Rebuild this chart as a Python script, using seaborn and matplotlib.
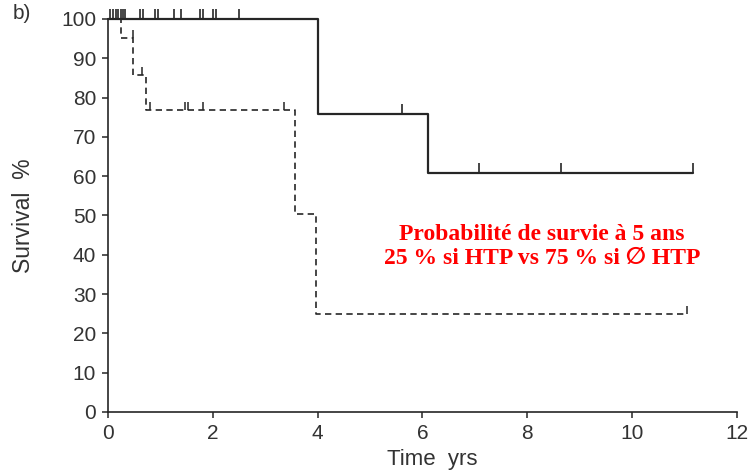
import numpy as np
import matplotlib
matplotlib.use("Agg")
import matplotlib.pyplot as plt
import seaborn as sns
from matplotlib.path import Path

# Kaplan-Meier steps (time in years, survival in %)
no_htp_times = [0, 4.0, 6.1, 11.17]
no_htp_surv = [100, 75.8, 60.7, 60.7]
no_htp_cens_t = [0.04, 0.1, 0.15, 0.19, 0.25, 0.29, 0.33, 0.61, 0.67, 0.9, 0.96,
                 1.26, 1.4, 1.76, 1.82, 2.01, 2.06, 2.5, 5.6, 7.07, 8.64, 11.17]
no_htp_cens_s = [100] * 18 + [75.8, 60.7, 60.7, 60.7]

htp_times = [0, 0.25, 0.48, 0.73, 3.57, 3.96, 11.05]
htp_surv = [100, 95.2, 85.7, 76.8, 50.4, 25.0, 25.0]
htp_cens_t = [0.47, 0.65, 0.8, 1.47, 1.53, 1.82, 3.35, 11.05]
htp_cens_s = [95.2, 85.7, 76.8, 76.8, 76.8, 76.8, 76.8, 25.0]

x_ticks = [0, 2, 4, 6, 8, 10, 12]
y_ticks = list(range(0, 101, 10))

sns.set_theme(style="ticks")
plt.rcParams['font.family'] = ['Liberation Sans', 'DejaVu Sans']

fig = plt.figure(figsize=(7.51, 4.74), dpi=100)
ax = fig.add_axes([0.1438, 0.131, 0.8375, 0.829])

line_col = "#262626"
sns.lineplot(x=no_htp_times, y=no_htp_surv, drawstyle="steps-post", estimator=None,
             color=line_col, lw=1.6, ax=ax, clip_on=False)
sns.lineplot(x=htp_times, y=htp_surv, drawstyle="steps-post", estimator=None,
             color=line_col, lw=1.2, ax=ax, clip_on=False)
ax.lines[-1].set_dashes([3.8, 2.6])

# censor marks: small upward ticks
tick_mark = Path([(0, 0), (0, 1)])
ax.plot(no_htp_cens_t, no_htp_cens_s, ls="none", marker=tick_mark, ms=14,
        mew=1.2, color=line_col, clip_on=False)
ax.plot(htp_cens_t, htp_cens_s, ls="none", marker=tick_mark, ms=12,
        mew=1.1, color=line_col, clip_on=False)

ax.set_xlim(0, 12)
ax.set_ylim(0, 100)
ax.set_xticks(x_ticks)
ax.set_yticks(y_ticks)
ax.tick_params(axis="both", direction="out", length=4.5, width=1.1, color=line_col,
               labelsize=15, labelcolor="#333333", pad=4)
sns.despine(ax=ax)
for s in ["left", "bottom"]:
    ax.spines[s].set_color(line_col)
    ax.spines[s].set_linewidth(1.2)

ax.set_xlabel("Time  yrs", fontsize=16, color="#333333", labelpad=8)
ax.xaxis.set_label_coords(0.515, -0.095)
ax.set_ylabel("Survival  %", fontsize=16.5, color="#333333", labelpad=19)

fig.text(13 / 751, 1 - 4 / 474, "b)", fontsize=15, color="#333333", ha="left", va="top")

ax.text(8.28, 42.0, "Probabilité de survie à 5 ans\n25 % si HTP vs 75 % si \u2205 HTP",
        ha="center", va="center", color="red", fontsize=17, fontweight="bold",
        family=["Liberation Serif", "DejaVu Sans"], linespacing=1.2)

fig.savefig("out.png", dpi=100)
